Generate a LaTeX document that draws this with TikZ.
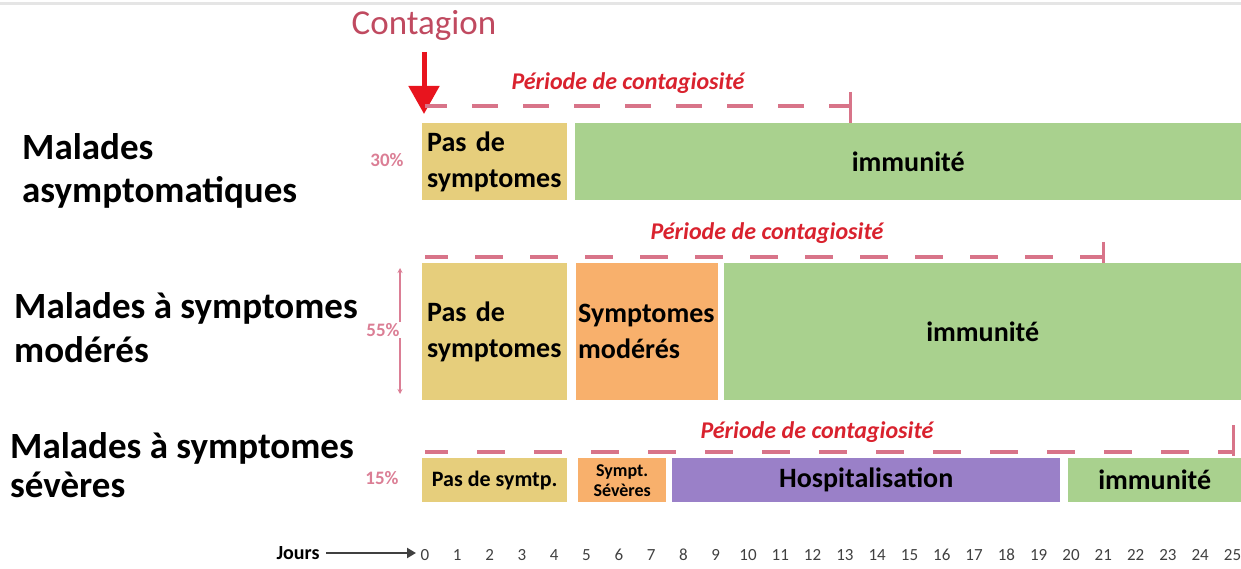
\documentclass[tikz,border=0pt]{standalone}
\usepackage{fontspec}
\setmainfont{Carlito}
\usetikzlibrary{arrows.meta}
\definecolor{cyel}{HTML}{E6CE7C}
\definecolor{cgrn}{HTML}{A9D18E}
\definecolor{corg}{HTML}{F8B06C}
\definecolor{cpur}{HTML}{9A80C8}
\definecolor{cdash}{HTML}{D87489}
\definecolor{cred}{HTML}{D9222E}
\definecolor{cpink}{HTML}{DB7E95}
\definecolor{ccont}{HTML}{C04A60}
\definecolor{carrow}{HTML}{E8141E}
\definecolor{cdark}{HTML}{404040}
\begin{document}
\begin{tikzpicture}[x=1pt,y=-1pt,
  box/.style={draw=none, inner xsep=8pt, inner ysep=0pt, anchor=north west,
    font=\bfseries\fontsize{28}{36}\selectfont, text=black},
  rowlabel/.style={anchor=base west, inner sep=0pt, font=\bfseries\fontsize{37}{43}\selectfont, text=black},
  pct/.style={font=\bfseries\fontsize{19}{21}\selectfont, text=cpink, inner sep=1pt},
  period/.style={font=\bfseries\itshape\fontsize{24}{28}\selectfont, text=cred},
  dashline/.style={draw=cdash, line width=3.5pt},
  tickline/.style={draw=cdash, line width=3pt},
  daynum/.style={font=\fontsize{17}{20}\selectfont, text=cdark, inner sep=0pt}
]
\useasboundingbox (0,0) rectangle (1241,569);
\draw[gray!20, line width=3pt] (0,4) -- (1241,4);

% Contagion
\node[font=\fontsize{35}{40}\selectfont, text=ccont] (cont) at (424,25) {Contagion};
\coordinate (astart) at (424,52);
\coordinate (aend) at (424,114);
\draw[carrow, line width=5pt, -{Triangle[width=30pt,length=28pt]}] (astart) -- (aend);

% Row labels
\node[rowlabel] (l1a) at (22,160) {Malades};
\node[rowlabel] (l1b) at (22,203) {asymptomatiques};
\node[rowlabel] (l2a) at (14,318) {Malades à symptomes};
\node[rowlabel] (l2b) at (14,362) {modérés};
\node[rowlabel] (l3a) at (10,458) {Malades à symptomes};
\node[rowlabel] (l3b) at (10,497) {sévères};

% Row 1
\node[box, fill=cyel, inner xsep=5pt, text width=135pt, minimum height=77pt, align=left] (p1) at (422,123) {Pas de\\symptomes};
\node[box, fill=cgrn, minimum width=666pt, minimum height=77pt, align=center] (i1) at (575,123) {immunité};
\node[pct] (pc1) at (387,160) {30\%};
\coordinate (d1s) at (425,106);
\coordinate (d1e) at (850,106);
\coordinate (t1a) at (850,92);
\coordinate (t1b) at (850,123);
\draw[dashline, dash pattern=on 26pt off 25pt, dash phase=4pt] (d1s) -- (d1e);
\draw[tickline] (t1a) -- (t1b);
\node[period] (per1) at (628,83) {Période de contagiosité};

% Row 2
\node[box, fill=cyel, inner xsep=5pt, text width=135pt, minimum height=137pt, align=left] (p2) at (422,263) {Pas de\\symptomes};
\node[box, fill=corg, inner xsep=2pt, text width=138pt, minimum height=137pt, align=left] (s2) at (576,263) {Symptomes\\modérés};
\node[box, fill=cgrn, minimum width=517pt, minimum height=137pt, align=center] (i2) at (724,263) {immunité};
\coordinate (v2a) at (400,268);
\coordinate (v2b) at (400,394);
\draw[cpink, line width=1.2pt, {Stealth[length=5pt,width=5pt]}-{Stealth[length=5pt,width=5pt]}] (v2a) -- (v2b);
\node[pct, fill=white] (pc2) at (383,330) {55\%};
\coordinate (d2s) at (425,257);
\coordinate (d2e) at (1103,257);
\coordinate (t2a) at (1103,242);
\coordinate (t2b) at (1103,263);
\draw[dashline, dash pattern=on 28pt off 27pt, dash phase=5pt] (d2s) -- (d2e);
\draw[tickline] (t2a) -- (t2b);
\node[period] (per2) at (767,233) {Période de contagiosité};

% Row 3
\node[box, fill=cyel, minimum width=145pt, minimum height=44pt, align=center, font=\bfseries\fontsize{22}{26}\selectfont] (p3) at (422,458) {Pas de symtp.};
\node[box, fill=corg, inner xsep=0pt, minimum width=88pt, minimum height=44pt, align=center, font=\bfseries\fontsize{18}{20}\selectfont] (s3) at (578,458) {Sympt.\\Sévères};
\node[box, fill=cpur, minimum width=388pt, minimum height=44pt, align=center] (h3) at (672,458) {Hospitalisation};
\node[box, fill=cgrn, minimum width=173pt, minimum height=44pt, align=center] (i3) at (1068,458) {immunité};
\node[pct] (pc3) at (382,478) {15\%};
\coordinate (d3s) at (425,452);
\coordinate (d3e) at (1233,452);
\coordinate (t3a) at (1233,425);
\coordinate (t3b) at (1233,456);
\draw[dashline, dash pattern=on 28pt off 29pt, dash phase=5pt] (d3s) -- (d3e);
\draw[tickline] (t3a) -- (t3b);
\node[period] (per3) at (817,432) {Période de contagiosité};

% Days axis
\node[font=\bfseries\fontsize{20}{24}\selectfont, text=black] (jours) at (298,553) {Jours};
\coordinate (ja) at (326,553);
\coordinate (jb) at (416,553);
\draw[cdark, line width=2.5pt, -{Triangle[width=10pt,length=9pt]}] (ja) -- (jb);
\foreach \i in {0,...,25} {
  \node[daynum] (n\i) at ({425+32.3*\i},555) {\i};
}
\end{tikzpicture}
\end{document}
